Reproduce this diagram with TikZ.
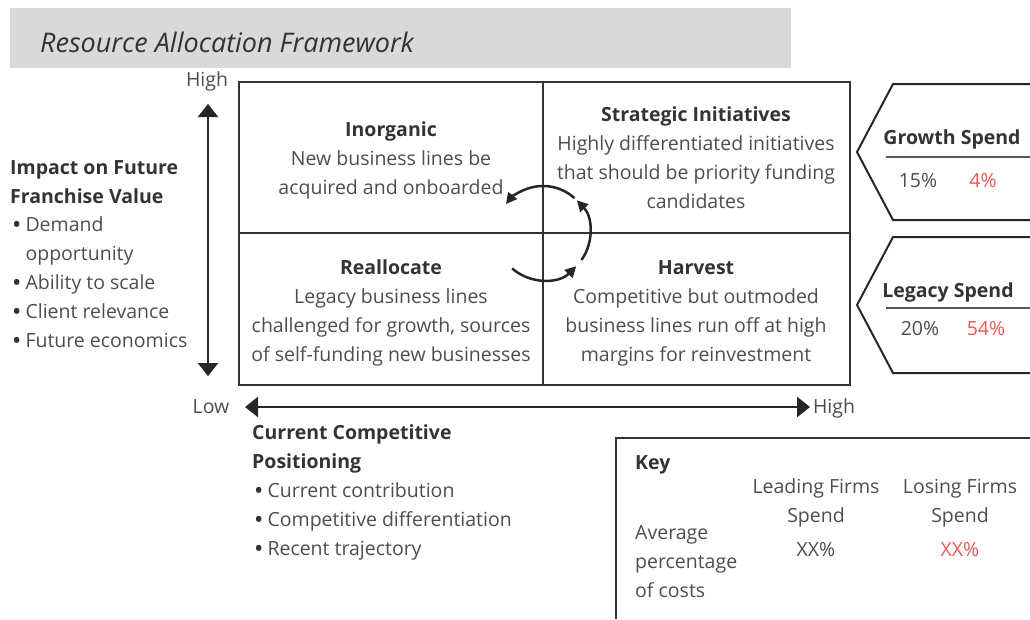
\documentclass[tikz,border=0pt]{standalone}
\usepackage{fontspec}
\setmainfont{Open Sans}
\usepackage{tikz}
\usetikzlibrary{arrows.meta}
\definecolor{ink}{HTML}{333333}
\definecolor{soft}{HTML}{4D4D4D}
\definecolor{alert}{HTML}{F05656}
\definecolor{band}{HTML}{D9D9D9}
\newcommand\hd[1]{{\bfseries\color{ink}#1}}
\newcommand\bul{\hspace*{3pt}{\bfseries\color{ink}\textbullet}\hspace{5pt}}
\tikzset{>=Triangle,
  body/.style={font=\fontsize{19.5}{28.8}\selectfont,text=soft,inner sep=0pt},
  head/.style={font=\fontsize{19.5}{28.8}\selectfont\bfseries,text=ink,inner sep=0pt},
  title/.style={font=\fontsize{27}{32}\selectfont\itshape,text=ink,inner sep=0pt},
  grid/.style={draw=ink,line width=1.1pt},
  axis/.style={draw=black!85,line width=2.6pt,
    {Triangle[length=13pt,width=20pt]}-{Triangle[length=13pt,width=20pt]}},
  turn/.style={draw=black!85,line width=2.5pt,-{Triangle[length=11pt,width=11pt]}},
  tag/.style={draw=black!85,line width=2pt,line join=miter},
  rule/.style={draw=black!65,line width=1.6pt},
  keybox/.style={draw=ink,line width=1.2pt}}
\begin{document}
\begin{tikzpicture}[x=1pt,y=-1pt]
  \useasboundingbox (0,0) rectangle (1030,619);
  % title band
  \fill[band] (10,8) rectangle (791,68);
  \node[title,anchor=base west] (ttl) at (40,52) {Resource Allocation Framework};

  % the two by two matrix (multi-line nodes sit on their last baseline)
  \coordinate (mNW) at (239,82);
  \coordinate (mSE) at (850,385);
  \coordinate (mC) at (543,233);
  \draw[grid] (mNW) rectangle (mSE);
  \draw[grid] (mNW -| mC) -- (mSE -| mC);
  \draw[grid] (mNW |- mC) -- (mSE |- mC);
  \node[body,align=center,anchor=base] (inorg) at (391,194)
    {\hd{Inorganic}\\New business lines be\\acquired and onboarded};
  \node[body,align=center,anchor=base] (strat) at (696,208)
    {\hd{Strategic Initiatives}\\Highly differentiated initiatives\\that should be priority funding\\candidates};
  \node[body,align=center,anchor=base] (realloc) at (391,361)
    {\hd{Reallocate}\\Legacy business lines\\challenged for growth, sources\\of self-funding new businesses};
  \node[body,align=center,anchor=base] (harv) at (696,361)
    {\hd{Harvest}\\Competitive but outmoded\\business lines run off at high\\margins for reinvestment};

  % cycle round the centre
  \draw[turn] ([shift={(-229:47)}]mC) arc[start angle=-229,end angle=-315,radius=47];
  \draw[turn] ([shift={(35:47)}]mC) arc[start angle=35,end angle=-44,radius=47];
  \draw[turn] ([shift={(-48:47)}]mC) arc[start angle=-48,end angle=-142,radius=47];

  % axes
  \node[body,anchor=base] (yHi) at (207,86) {High};
  \coordinate (yTop) at (208,104);
  \coordinate (yBot) at (208,376);
  \draw[axis] (yBot) -- (yTop);
  \node[body,anchor=base] (xLo) at (211,413) {Low};
  \node[body,anchor=base] (xHi) at (834,413) {High};
  \coordinate (xLeft) at (245,407);
  \coordinate (xRight) at (810,407);
  \draw[axis] (xLeft) -- (xRight);
  \node[body,align=left,anchor=base west] (yTxt) at (10,347)
    {\hd{Impact on Future}\\\hd{Franchise Value}\\\bul Demand\\\hphantom{\bul}opportunity\\\bul Ability to scale\\\bul Client relevance\\\bul Future economics};
  \node[body,align=left,anchor=base west] (xTxt) at (252,555)
    {\hd{Current Competitive}\\\hd{Positioning}\\\bul Current contribution\\\bul Competitive differentiation\\\bul Recent trajectory};

  % spend tags
  \draw[tag] (1030,84) -- (893,84) -- (857,152) -- (893,220) -- (1030,220);
  \node[head,anchor=base] (grow) at (952,144) {Growth Spend};
  \draw[rule] (886,157) -- (1030,157);
  \node[body,anchor=base] (growLead) at (918,187) {15\%};
  \node[body,anchor=base,text=alert] (growLose) at (983,187) {4\%};
  \draw[tag] (1030,237) -- (893,237) -- (857,305) -- (893,373) -- (1030,373);
  \node[head,anchor=base] (legacy) at (948,297) {Legacy Spend};
  \draw[rule] (886,308) -- (1030,308);
  \node[body,anchor=base] (legLead) at (920,335) {20\%};
  \node[body,anchor=base,text=alert] (legLose) at (986,335) {54\%};

  % key
  \draw[keybox] (1030,438) -- (616,438) -- (616,619);
  \node[head,anchor=base west] (key) at (635,469) {Key};
  \node[body,align=center,anchor=base] (kLead) at (816,522) {Leading Firms\\Spend};
  \node[body,anchor=base] (kLeadV) at (816,556) {XX\%};
  \node[body,align=center,anchor=base] (kLose) at (960,522) {Losing Firms\\Spend};
  \node[body,anchor=base,text=alert] (kLoseV) at (960,556) {XX\%};
  \node[body,align=left,anchor=base west] (kAvg) at (635,597) {Average\\percentage\\of costs};
\end{tikzpicture}
\end{document}
